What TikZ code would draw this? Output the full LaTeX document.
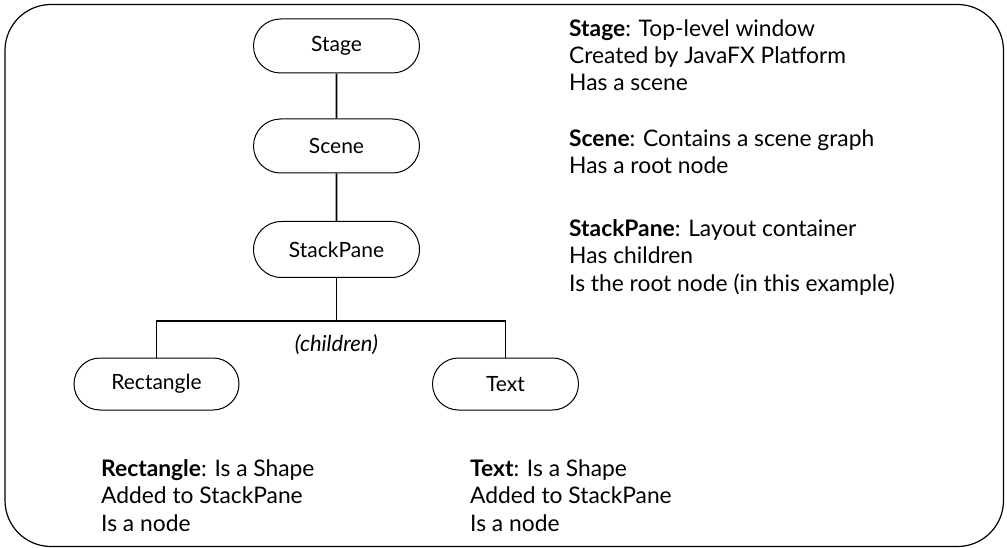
\documentclass[tikz,border=0pt]{standalone}
\usepackage{fontspec}
\setmainfont{Lato}
\usetikzlibrary{shapes.misc}
\begin{document}
\begin{tikzpicture}[x=1pt,y=-1pt,
  font=\fontsize{22.8}{27.3}\selectfont,
  pill/.style={draw, line width=1pt, rounded rectangle, minimum width=166pt, minimum height=54pt, inner sep=0pt, font=\fontsize{21}{25}\selectfont},
  conn/.style={line width=1.8pt},
  desc/.style={anchor=base west, align=left, inner sep=0pt}]
\useasboundingbox (0,0) rectangle (1007,548);
\draw[line width=1.2pt, rounded corners=46pt] (5,4.5) rectangle (1003.5,546.5);
\node[pill] (stage) at (336.5,46) {Stage};
\node[pill] (scene) at (336.5,146) {Scene};
\node[pill, minimum height=56pt] (stack) at (336.5,249.5) {StackPane};
\node[pill, minimum width=165pt, minimum height=52pt] (rect) at (156.5,384) {Rectangle};
\node[pill, minimum width=146pt, minimum height=52pt] (txt) at (505.5,384) {Text};
\coordinate (j) at (336.5,320.7);
\draw[conn] (stage) -- (scene);
\draw[conn] (scene) -- (stack);
\draw[conn] (stack.south) -- (j);
\draw[conn] (rect.north) -- (rect.north |- j) -- (txt.north |- j) -- (txt.north);
\node[font=\fontsize{22}{27}\selectfont\itshape] (lbl) at (336.5,345) {(children)};
\node[desc] (dstage) at (569,91) {\textbf{Stage}: Top-level window\\Created by JavaFX Platform\\Has a scene};
\node[desc] (dscene) at (569,173.5) {\textbf{Scene}: Contains a scene graph\\Has a root node};
\node[desc] (dstack) at (569,291) {\textbf{StackPane}: Layout container\\Has children\\Is the root node (in this example)};
\node[desc] (drect) at (101,531) {\textbf{Rectangle}: Is a Shape\\Added to StackPane\\Is a node};
\node[desc] (dtxt) at (470,531) {\textbf{Text}: Is a Shape\\Added to StackPane\\Is a node};
\end{tikzpicture}
\end{document}
